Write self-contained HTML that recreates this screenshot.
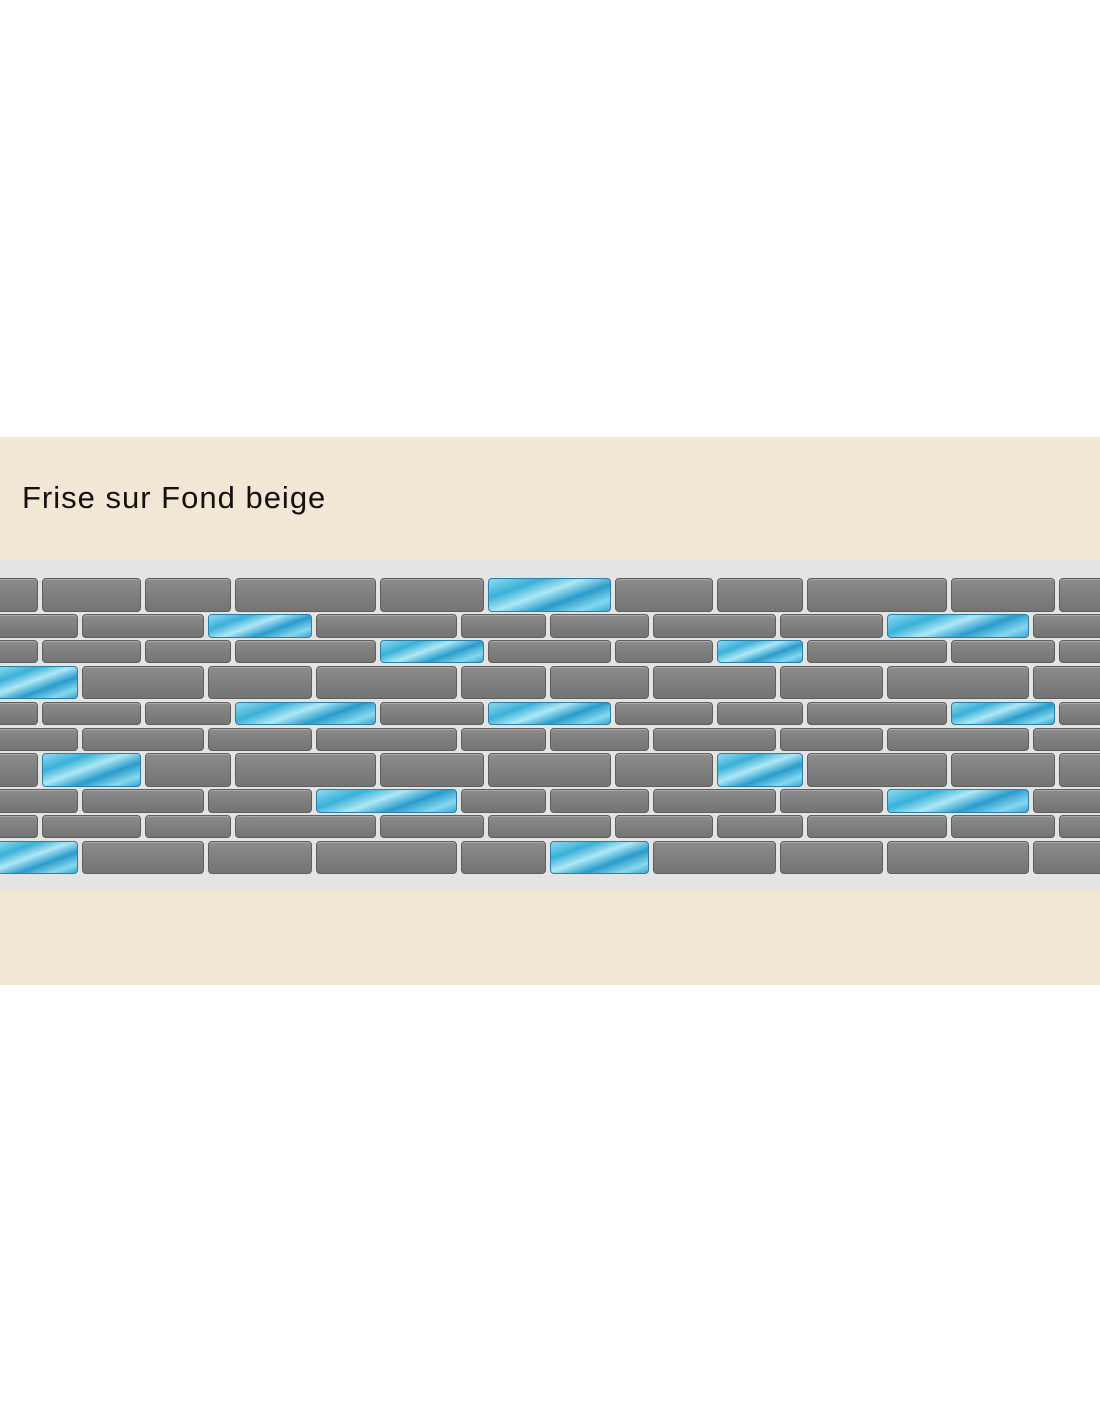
<!DOCTYPE html>
<html><head><meta charset="utf-8"><style>
html,body{margin:0;padding:0;background:#fff;}
body{width:1100px;height:1422px;position:relative;overflow:hidden;}
#beige{position:absolute;left:0;top:437px;width:1100px;height:548px;background:#f1e7d4;}
#t{position:absolute;left:22px;top:480px;font-family:"Liberation Sans",sans-serif;font-size:31px;color:#111;letter-spacing:1px;white-space:nowrap;}
#band{position:absolute;left:0;top:560px;width:1100px;height:330px;background:#e4e4e3;}
.b{position:absolute;box-sizing:border-box;border-radius:4px;background:linear-gradient(180deg,#8c8c8c 0%,#7f7f7f 50%,#747474 100%);border:1px solid #5e5e5e;box-shadow:inset 0 1px 0 #aaa;}
.c{position:absolute;box-sizing:border-box;border-radius:4px;border:1px solid #2a7fa6;background:linear-gradient(160deg,#8fdcf0 0%,#3ab0d8 25%,#aee8f6 45%,#2a9bcb 65%,#86d8ee 85%,#3aa6d2 100%);}
</style></head><body>
<div id="beige"></div>
<div id="t">Frise sur Fond beige</div>
<div id="band"></div>
<div id="w"></div>
<script>
var rows=[[578,612],[614,638],[640,663],[666,699],[702,725],[728,751],[753,787],[789,813],[815,838],[841,874]];
var A=[[0,38],[42,141],[145,231],[235,376],[380,484],[488,611],[615,713],[717,803],[807,947],[951,1055],[1059,1100]];
var B=[[0,78],[82,204],[208,312],[316,457],[461,546],[550,649],[653,776],[780,883],[887,1029],[1033,1100]];
var blue={0:[488],1:[208,887],2:[380,717],3:[0],4:[235,488,951],5:[],6:[42,717],7:[316,887],8:[],9:[0,550]};
var h='';
rows.forEach(function(r,i){var cols=i%2==0?A:B;cols.forEach(function(c){var cl=blue[i].indexOf(c[0])>=0?'c':'b';var x=c[0],w=c[1]-c[0];if(x==0){x=-4;w+=4;}if(c[1]==1100)w+=4;h+='<div class="'+cl+'" style="left:'+x+'px;top:'+r[0]+'px;width:'+w+'px;height:'+(r[1]-r[0])+'px"></div>';});});
document.getElementById('w').innerHTML=h;
</script>
</body></html>
